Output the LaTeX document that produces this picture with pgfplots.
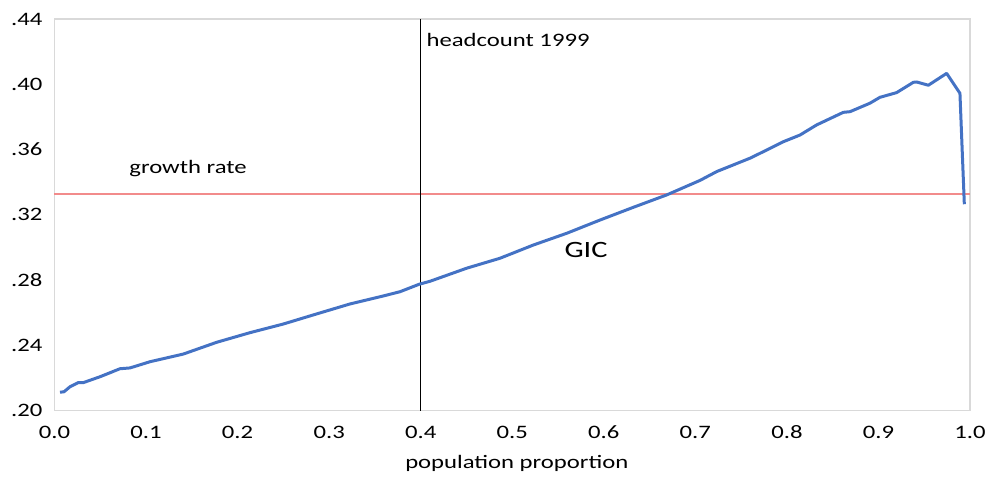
\documentclass[border=0pt]{standalone}
\usepackage{pgfplots}
\pgfplotsset{compat=1.18}
\usepackage{pgfplotstable}
\usepackage{fontspec}
\setmainfont{Carlito}[FakeStretch=1.3]
\definecolor{gicblue}{HTML}{4472C4}
\definecolor{growthred}{HTML}{F28B8B}
\definecolor{axisgray}{HTML}{D9D9D9}
\pgfplotstableread{
x y
0.006 0.2113
0.0104 0.2116
0.017 0.2147
0.026 0.2172
0.0315 0.2172
0.0497 0.2208
0.0715 0.2257
0.0825 0.2262
0.1043 0.2300
0.1407 0.2347
0.1771 0.2419
0.2135 0.2478
0.2499 0.2531
0.2864 0.2593
0.3228 0.2654
0.3592 0.2703
0.3774 0.2729
0.3985 0.2775
0.4102 0.2793
0.4502 0.2873
0.4866 0.2934
0.5230 0.3015
0.5595 0.3087
0.5958 0.3168
0.6322 0.3246
0.6687 0.3322
0.7051 0.3411
0.7233 0.3465
0.7597 0.3547
0.7779 0.3597
0.7961 0.3648
0.8143 0.3689
0.8325 0.3751
0.8616 0.3828
0.8689 0.3832
0.8907 0.3884
0.9016 0.3920
0.9199 0.3949
0.9381 0.4012
0.9418 0.4014
0.9545 0.3994
0.9745 0.4067
0.9890 0.3945
0.9938 0.3265
}\gicdata
\begin{document}
\begin{tikzpicture}
\begin{axis}[
  scale only axis,
  width=457.75pt, height=195.85pt,
  xmin=0, xmax=1, ymin=0.2, ymax=0.44,
  axis line style={axisgray, line width=0.8pt},
  tick style={draw=none},
  xtick={0,0.1,0.2,0.3,0.4,0.5,0.6,0.7,0.8,0.9,1},
  xticklabels={0.0,0.1,0.2,0.3,0.4,0.5,0.6,0.7,0.8,0.9,1.0},
  ytick={0.2,0.24,0.28,0.32,0.36,0.4,0.44},
  yticklabels={.20,.24,.28,.32,.36,.40,.44},
  ticklabel style={font=\fontsize{9.5}{11}\selectfont, text=black},
  yticklabel style={xshift=-2.5pt},
  xticklabel style={yshift=-4pt},
  xlabel={population proportion},
  xlabel style={font=\fontsize{9.5}{11}\selectfont, at={(axis description cs:0.505,0)}, anchor=center, yshift=-26.6pt},
  clip=false,
]
\addplot[growthred, line width=1pt] coordinates {(0,0.3325) (1,0.3325)};
\addplot[black, line width=0.5pt] coordinates {(0.4,0.2) (0.4,0.44)};
\addplot[gicblue, line width=1.5pt, line join=round] table[x=x,y=y] {\gicdata};
\node[anchor=west, inner sep=0pt, font=\fontsize{9.5}{11}\selectfont] at (axis cs:0.406,0.4271) {headcount 1999};
\node[anchor=west, inner sep=0pt, font=\fontsize{9.5}{11}\selectfont] at (axis cs:0.0814,0.3481) {growth rate};
\node[anchor=center, inner sep=0pt, font=\fontsize{11.7}{14}\selectfont] at (axis cs:0.5806,0.2982) {GIC};
\end{axis}
\pgfresetboundingbox
\path ([shift={(-27.25pt,-34.15pt)}]current axis.south west) rectangle ([shift={(10pt,9.5pt)}]current axis.north east);
\end{tikzpicture}
\end{document}
